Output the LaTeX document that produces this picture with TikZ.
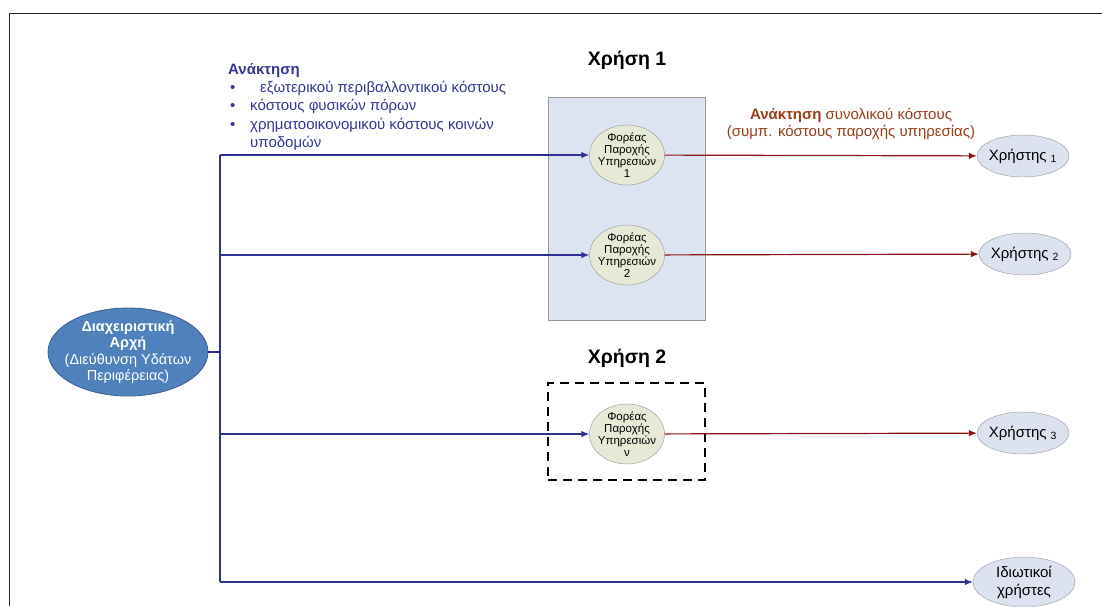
\documentclass[tikz,border=0pt]{standalone}
\usepackage{fontspec}
\setmainfont{Liberation Sans}
\usetikzlibrary{arrows.meta,shapes.geometric}

\definecolor{navy}{RGB}{46,49,146}
\definecolor{darkred}{RGB}{140,22,22}
\definecolor{brownred}{RGB}{150,62,25}
\definecolor{labelblue}{RGB}{52,54,150}
\definecolor{authfill}{RGB}{79,129,189}
\definecolor{authdraw}{RGB}{60,96,140}
\definecolor{usefill}{RGB}{220,227,241}
\definecolor{provfill}{RGB}{229,233,214}
\definecolor{userfill}{RGB}{221,226,240}
\definecolor{edgegray}{RGB}{150,150,150}

\begin{document}
\begin{tikzpicture}[x=1pt,y=-1pt,
  every node/.style={inner sep=0pt},
  authority/.style={ellipse, draw=authdraw, line width=0.8pt, fill=authfill, text=white,
    minimum width=160pt, minimum height=88pt, inner xsep=-16pt, inner ysep=-6pt,
    align=center, font=\fontsize{14.5}{16.5}\selectfont},
  provider/.style={ellipse, draw=edgegray, fill=provfill, minimum width=75pt,
    minimum height=60pt, inner xsep=-7pt, inner ysep=-7pt, align=center,
    font=\fontsize{11.5}{12}\selectfont},
  user/.style={ellipse, draw=edgegray, fill=userfill, minimum width=92pt,
    minimum height=42pt, inner xsep=-4pt, inner ysep=-3pt, align=center,
    font=\fontsize{15}{18}\selectfont},
  usebox/.style={draw=edgegray, fill=usefill, line width=0.6pt},
  title/.style={font=\fontsize{19.5}{22}\selectfont\bfseries},
  supply/.style={draw=navy, line width=1.2pt},
  supplyarrow/.style={supply, -{Latex[length=8pt,width=6.5pt]}},
  charge/.style={draw=darkred, line width=1.2pt, -{Latex[length=8pt,width=6.5pt]}}
]
\useasboundingbox (0,0) rectangle (1102,606);

% page frame
\draw[line width=1.6pt, black!85] (9.5,606) -- (9.5,13.5) -- (1102,13.5);

% usage groups
\node[usebox, minimum width=157pt, minimum height=223pt] (use1) at (626.5,208.5) {};
\node[draw=black, line width=1.6pt, dash pattern=on 9pt off 6pt,
      minimum width=157pt, minimum height=97pt] (use2) at (626.5,431.5) {};
\node[title] (use1title) at (627,60) {Χρήση 1};
\node[title] (use2title) at (627,358) {Χρήση 2};

% actors
\node[authority] (auth) at (128,352)
  {\textbf{Διαχειριστική}\\\textbf{Αρχή}\\(Διεύθυνση Υδάτων\\Περιφέρειας)};

\node[provider] (f1) at (627,155) {Φορέας\\Παροχής\\Υπηρεσιών\\1};
\node[provider] (f2) at (627,255) {Φορέας\\Παροχής\\Υπηρεσιών\\2};
\node[provider] (fv) at (627,434) {Φορέας\\Παροχής\\Υπηρεσιών\\ν};

\node[user] (u1) at (1023,156) {Χρήστης \textsubscript{1}};
\node[user] (u2) at (1025,254) {Χρήστης \textsubscript{2}};
\node[user] (u3) at (1023,433) {Χρήστης \textsubscript{3}};
\node[user, minimum width=102pt, minimum height=50pt] (priv) at (1024,582)
  {Ιδιωτικοί\\χρήστες};

% cost labels
\node[anchor=north west, align=left, text=labelblue,
      font=\fontsize{15}{18.3}\selectfont] (recovery) at (228,63)
  {\textbf{Ανάκτηση}\\
   \hspace*{2pt}\makebox[20pt][l]{\textbullet}\hspace{10pt}εξωτερικού περιβαλλοντικού κόστους\\
   \hspace*{2pt}\makebox[20pt][l]{\textbullet}κόστους φυσικών πόρων\\
   \hspace*{2pt}\makebox[20pt][l]{\textbullet}χρηματοοικονομικού κόστους κοινών\\
   \hspace*{22pt}υποδομών};

\node[align=center, text=brownred, font=\fontsize{15}{17.5}\selectfont] (total) at (851,124)
  {\textbf{Ανάκτηση} συνολικού κόστους\\(συμπ. κόστους παροχής υπηρεσίας)};

% distribution trunk
\coordinate (trunk) at (220,0);
\draw[supply] (auth.east) -- (trunk |- auth);
\draw[supply] (trunk |- f1) -- (trunk |- priv);
\draw[supplyarrow] (trunk |- f1) -- (f1);
\draw[supplyarrow] (trunk |- f2) -- (f2);
\draw[supplyarrow] (trunk |- fv) -- (fv);
\draw[supplyarrow] (trunk |- priv) -- (priv);

% charges to users
\draw[charge] (f1) -- (u1);
\draw[charge] (f2) -- (u2);
\draw[charge] (fv) -- (u3);
\end{tikzpicture}
\end{document}
